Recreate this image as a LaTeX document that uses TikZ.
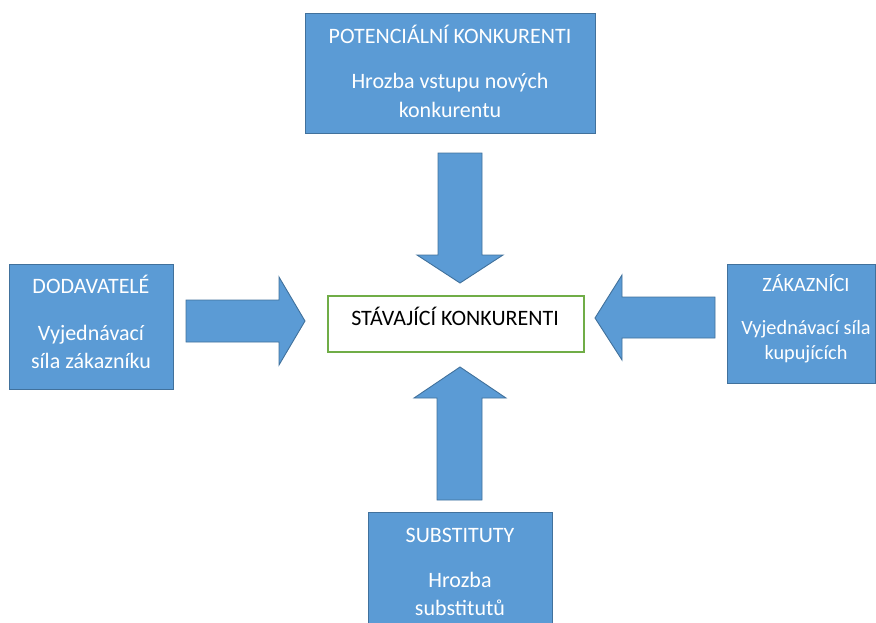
\documentclass[tikz,border=0pt]{standalone}
\usepackage{fontspec}
\setmainfont{Carlito}
\definecolor{boxblue}{HTML}{5B9BD5}
\definecolor{edgeblue}{HTML}{41719C}
\definecolor{okgreen}{HTML}{70AD47}
\begin{document}
\begin{tikzpicture}[x=1pt,y=-1pt,
  bluebox/.style={draw=edgeblue,fill=boxblue,line width=1pt},
  blockarrow/.style={draw=edgeblue,fill=boxblue,line width=0.9pt,line join=miter},
  wtxt/.style={anchor=base,text=white,font=\fontsize{22}{26}\selectfont,inner sep=0pt},
  wsmall/.style={wtxt,font=\fontsize{20.3}{24}\selectfont},
  btxt/.style={anchor=base,text=black,font=\fontsize{22}{26}\selectfont,inner sep=0pt}]
\useasboundingbox (0,0) rectangle (876,622);
% boxes
\path[bluebox] (305,13) rectangle (595,133);
\path[bluebox] (9,264) rectangle (173,389);
\path[bluebox] (727,264) rectangle (875,383);
\path[bluebox] (368,512) rectangle (552,630);
\draw[okgreen,line width=1.2pt] (328,296) rectangle (584,352);
% block arrows
\path[blockarrow] (438,153) -- (482,153) -- (482,255) -- (503,255) -- (460,283) -- (417,255) -- (438,255) -- cycle;
\path[blockarrow] (186,300) -- (279,300) -- (279,277) -- (305,321) -- (279,365) -- (279,342) -- (186,342) -- cycle;
\path[blockarrow] (715,297) -- (622,297) -- (622,275) -- (595,318) -- (622,360) -- (622,338) -- (715,338) -- cycle;
\path[blockarrow] (437,500) -- (437,398) -- (414,398) -- (460,367) -- (506,398) -- (482,398) -- (482,500) -- cycle;
% texts
\node[wtxt] (t1) at (450,43) {POTENCIÁLNÍ KONKURENTI};
\node[wtxt] (t2) at (450,88) {Hrozba vstupu nových};
\node[wtxt] (t3) at (450,117) {konkurentu};
\node[wtxt] (l1) at (91,293) {DODAVATELÉ};
\node[wtxt] (l2) at (91,340) {Vyjednávací};
\node[wtxt] (l3) at (91,368) {síla zákazníku};
\node[wsmall] (r1) at (806,291) {ZÁKAZNÍCI};
\node[wsmall] (r2) at (806,334) {Vyjednávací síla};
\node[wsmall] (r3) at (806,359) {kupujících};
\node[wtxt] (b1) at (460,542) {SUBSTITUTY};
\node[wtxt] (b2) at (460,587) {Hrozba};
\node[wtxt] (b3) at (460,615) {substitutů};
\node[btxt] (c1) at (455,325) {STÁVAJÍCÍ KONKURENTI};
\end{tikzpicture}
\end{document}
